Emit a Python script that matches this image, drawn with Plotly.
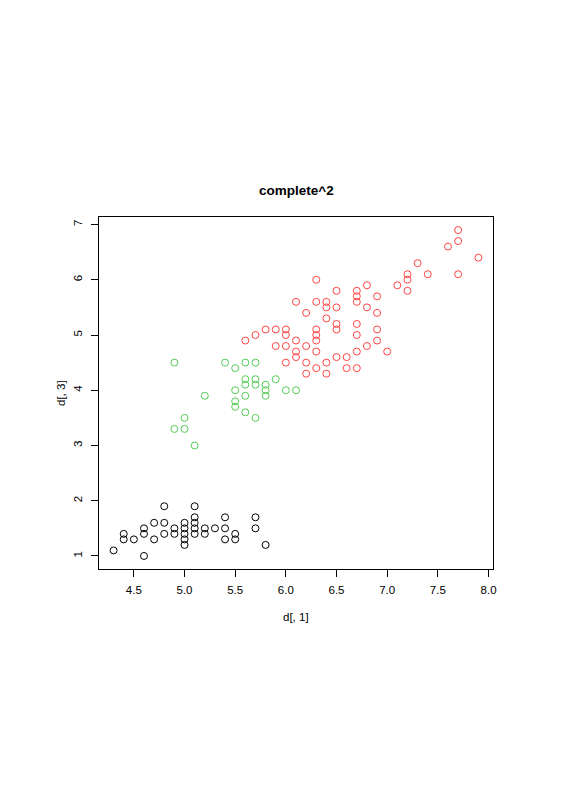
import plotly.graph_objects as go

# cluster 1 (black) - sepal length d[,1], petal length d[,3]
c1_x = [4.3, 4.4, 4.4, 4.5, 4.6, 4.6, 4.6, 4.7, 4.7, 4.8, 4.8, 4.8, 4.9, 4.9,
        5.0, 5.0, 5.0, 5.0, 5.0, 5.1, 5.1, 5.1, 5.1, 5.1, 5.2, 5.2, 5.3,
        5.4, 5.4, 5.4, 5.5, 5.5, 5.7, 5.7, 5.8]
c1_y = [1.1, 1.4, 1.3, 1.3, 1.5, 1.4, 1.0, 1.6, 1.3, 1.9, 1.6, 1.4, 1.5, 1.4,
        1.6, 1.5, 1.4, 1.3, 1.2, 1.9, 1.7, 1.6, 1.5, 1.4, 1.5, 1.4, 1.5,
        1.7, 1.5, 1.3, 1.4, 1.3, 1.7, 1.5, 1.2]

# cluster 2 (green)
c2_x = [4.9, 5.4, 5.5, 5.6, 5.7, 5.6, 5.7, 5.6, 5.7, 5.8, 5.8, 5.8, 5.9,
        6.0, 6.1, 5.5, 5.6, 5.2, 5.5, 5.5, 5.6, 5.7, 5.0, 4.9, 5.0, 5.1]
c2_y = [4.5, 4.5, 4.4, 4.5, 4.5, 4.2, 4.2, 4.1, 4.1, 4.1, 4.0, 3.9, 4.2,
        4.0, 4.0, 4.0, 3.9, 3.9, 3.8, 3.7, 3.6, 3.5, 3.5, 3.3, 3.3, 3.0]

# cluster 3 (red)
c3_x = [6.3, 6.8, 7.1, 6.5, 6.7, 6.7, 6.7, 6.9, 6.1, 6.3, 6.4, 6.4, 6.5,
        6.8, 6.2, 6.9, 6.4, 6.5, 6.7, 6.3, 6.5, 6.9, 5.8, 5.9, 6.0, 5.7,
        6.0, 6.3, 6.7, 5.6, 6.3, 6.1, 6.9, 5.9, 6.0, 6.8, 6.2, 6.1, 6.3,
        6.7, 7.0, 6.1, 6.5, 6.6, 6.0, 6.2, 6.4, 6.3, 6.6, 6.7, 6.2, 6.4,
        7.7, 7.7, 7.6, 7.9, 7.3, 7.2, 7.2, 7.4, 7.7, 7.2]
c3_y = [6.0, 5.9, 5.9, 5.8, 5.8, 5.7, 5.6, 5.7, 5.6, 5.6, 5.6, 5.5, 5.5,
        5.5, 5.4, 5.4, 5.3, 5.2, 5.2, 5.1, 5.1, 5.1, 5.1, 5.1, 5.1, 5.0,
        5.0, 5.0, 5.0, 4.9, 4.9, 4.9, 4.9, 4.8, 4.8, 4.8, 4.8, 4.7, 4.7,
        4.7, 4.7, 4.6, 4.6, 4.6, 4.5, 4.5, 4.5, 4.4, 4.4, 4.4, 4.3, 4.3,
        6.9, 6.7, 6.6, 6.4, 6.3, 6.1, 6.0, 6.1, 6.1, 5.8]

x_ticks = [4.5, 5.0, 5.5, 6.0, 6.5, 7.0, 7.5, 8.0]
y_ticks = [1, 2, 3, 4, 5, 6, 7]

FONT = "Liberation Sans, Arial, sans-serif"

fig = go.Figure()
for xs, ys, col in [(c1_x, c1_y, "black"), (c2_x, c2_y, "#55CC55"), (c3_x, c3_y, "#FF4444")]:
    fig.add_trace(go.Scatter(
        x=xs, y=ys, mode="markers",
        marker=dict(symbol="circle-open", size=7, color=col, line=dict(width=1, color=col)),
        showlegend=False, hoverinfo="skip"))

axis_common = dict(
    showgrid=False, zeroline=False, showline=True, mirror=True,
    linecolor="black", linewidth=1, ticks="outside", ticklen=7,
    tickcolor="black", tickwidth=1, tickfont=dict(family=FONT, size=11.5, color="black"),
)

fig.update_xaxes(range=[4.156, 8.044], tickvals=x_ticks, ticktext=[f"{v:.1f}" for v in x_ticks],
                 ticklabelstandoff=3, **axis_common)
fig.update_yaxes(range=[0.764, 7.136], tickvals=y_ticks, tickangle=-90,
                 ticklabelstandoff=4, **axis_common)

# page body adds an 8px offset, so the figure is 8px smaller on each side
fig.update_layout(
    width=557, height=792,
    margin=dict(l=91, r=72, t=209, b=231),
    plot_bgcolor="white", paper_bgcolor="white",
    annotations=[
        dict(text="<b>complete^2</b>", xref="paper", yref="paper", x=0.5, y=(569 - 190) / 352,
             xanchor="center", yanchor="middle", showarrow=False,
             font=dict(family=FONT, size=13.5, color="black")),
        dict(text="d[, 1]", xref="paper", yref="paper", x=0.5, y=(569 - 617) / 352,
             xanchor="center", yanchor="middle", showarrow=False,
             font=dict(family=FONT, size=11.5, color="black")),
        dict(text="d[, 3]", xref="paper", yref="paper", x=(61 - 99) / 394, y=0.5,
             xanchor="center", yanchor="middle", showarrow=False, textangle=-90,
             font=dict(family=FONT, size=11.5, color="black")),
    ],
)

fig.write_html("out.html")
